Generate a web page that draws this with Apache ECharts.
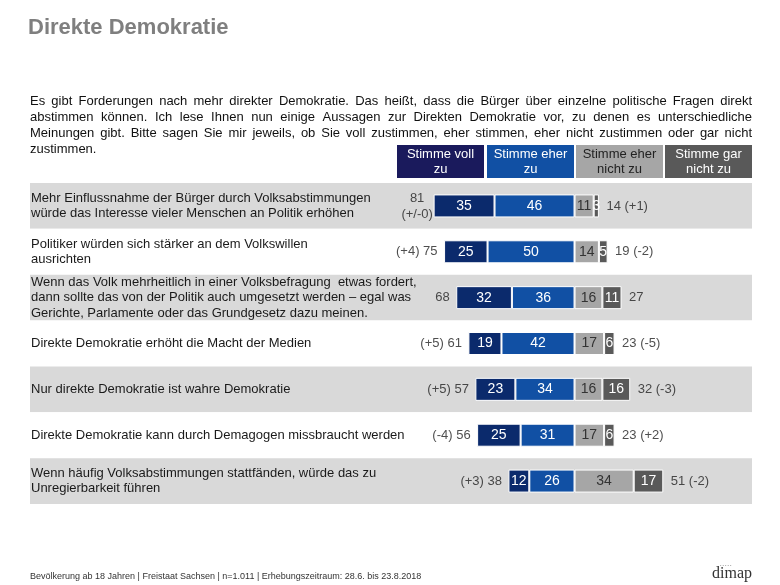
<!DOCTYPE html>
<html>
<head>
<meta charset="utf-8">
<script src="https://cdn.jsdelivr.net/npm/echarts@6/dist/echarts.min.js"></script>
<style>
html,body{margin:0;padding:0;background:#fff;}
#chart{width:780px;height:585px;}
</style>
</head>
<body>
<div id="chart"></div>
<script>
var categories = [
  'Mehr Einflussnahme der Bürger durch Volksabstimmungen\nwürde das Interesse vieler Menschen an Politik erhöhen',
  'Politiker würden sich stärker an dem Volkswillen\nausrichten',
  'Wenn das Volk mehrheitlich in einer Volksbefragung  etwas fordert,\ndann sollte das von der Politik auch umgesetzt werden – egal was\nGerichte, Parlamente oder das Grundgesetz dazu meinen.',
  'Direkte Demokratie erhöht die Macht der Medien',
  'Nur direkte Demokratie ist wahre Demokratie',
  'Direkte Demokratie kann durch Demagogen missbraucht werden',
  'Wenn häufig Volksabstimmungen stattfänden, würde das zu\nUnregierbarkeit führen'
];
var seriesNames = ['Stimme voll\nzu', 'Stimme eher\nzu', 'Stimme eher\nnicht zu', 'Stimme gar\nnicht zu'];
var vollZu      = [35, 25, 32, 19, 23, 25, 12];
var eherZu      = [46, 50, 36, 42, 34, 31, 26];
var eherNichtZu = [11, 14, 16, 17, 16, 17, 34];
var garNichtZu  = [3, 5, 11, 6, 16, 6, 17];
var agreeTotal     = [81, 75, 68, 61, 57, 56, 38];
var agreeChange    = ['+/-0', '+4', '', '+5', '+5', '-4', '+3'];
var disagreeTotal  = [14, 19, 27, 23, 32, 23, 51];
var disagreeChange = ['+1', '-2', '', '-5', '-3', '+2', '-2'];

var paragraphLines = [
  'Es gibt Forderungen nach mehr direkter Demokratie. Das heißt, dass die Bürger über einzelne politische Fragen direkt',
  'abstimmen können. Ich lese Ihnen nun einige Aussagen zur Direkten Demokratie vor, zu denen es unterschiedliche',
  'Meinungen gibt. Bitte sagen Sie mir jeweils, ob Sie voll zustimmen, eher stimmen, eher nicht zustimmen oder gar nicht',
  'zustimmen.'
];

var colors = ['#0b2a6c', '#1150a4', '#a6a6a6', '#595959'];
var headerColors = ['#1a1a5c', '#1150a4', '#a6a6a6', '#595959'];
var headerText = ['#ffffff', '#ffffff', '#222222', '#ffffff'];
var FONT = 'Liberation Sans, Arial, sans-serif';

var chart = echarts.init(document.getElementById('chart'), null, {renderer: 'canvas'});

function segLabel(color) {
  return {
    show: true, position: 'inside', color: color, fontSize: 14, fontFamily: FONT,
    formatter: function (p) { return Math.abs(p.value); }
  };
}

var headerGraphics = [];
var hx = [397, 487, 576, 665];
for (var i = 0; i < 4; i++) {
  headerGraphics.push({
    type: 'rect', left: hx[i], top: 145,
    shape: {width: 87, height: 33},
    style: {fill: headerColors[i]}, silent: true
  });
  headerGraphics.push({
    type: 'text', x: hx[i] + 43.5, y: 161.5,
    style: {text: seriesNames[i], fill: headerText[i], font: '13px ' + FONT,
      align: 'center', verticalAlign: 'middle', lineHeight: 15}, silent: true
  });
}

// justified paragraph: place words of each line with stretched spacing
var pFont = '13px ' + FONT;
var ctx = document.createElement('canvas').getContext('2d');
ctx.font = pFont;
var paraGraphics = [];
var pLeft = 30, pWidth = 722, pTop = 101, pLine = 16;
paragraphLines.forEach(function (line, li) {
  var y = pTop + li * pLine;
  var words = line.split(' ');
  if (li === paragraphLines.length - 1 || words.length < 2) {
    paraGraphics.push({type: 'text', x: pLeft, y: y,
      style: {text: line, fill: '#111', font: pFont, verticalAlign: 'middle'}, silent: true});
    return;
  }
  var widths = words.map(function (w) { return ctx.measureText(w).width; });
  var total = widths.reduce(function (a, b) { return a + b; }, 0);
  var gap = (pWidth - total) / (words.length - 1);
  var x = pLeft;
  words.forEach(function (w, wi) {
    paraGraphics.push({type: 'text', x: x, y: y,
      style: {text: w, fill: '#111', font: pFont, verticalAlign: 'middle'}, silent: true});
    x += widths[wi] + gap;
  });
});

var option = {
  animation: false,
  backgroundColor: '#ffffff',
  grid: {left: 30, right: 28, top: 183, height: 321, containLabel: false},
  xAxis: {type: 'value', min: -313, max: 102, show: false},
  yAxis: {
    type: 'category', data: categories, inverse: true,
    axisLine: {show: false}, axisTick: {show: false},
    axisLabel: {inside: true, margin: 1, fontSize: 13, color: '#1a1a1a',
      fontFamily: FONT, lineHeight: 15.5, align: 'left'},
    splitLine: {show: false},
    splitArea: {show: true, areaStyle: {color: ['#d9d9d9', '#ffffff']}},
    z: 1
  },
  graphic: [
    {type: 'text', left: 28, top: 17,
      style: {text: 'Direkte Demokratie', fill: '#7f7f7f', font: 'bold 22px ' + FONT}},
    {type: 'text', left: 30, top: 572,
      style: {text: 'Bevölkerung ab 18 Jahren | Freistaat Sachsen | n=1.011 | Erhebungszeitraum: 28.6. bis 23.8.2018',
        fill: '#333', font: '9px ' + FONT}},
    {type: 'text', left: 712, top: 566,
      style: {text: 'dimap', fill: '#333', font: '16px Liberation Serif, serif'}},
    {type: 'text', left: 720, top: 564,
      style: {text: '• • • • •', fill: '#999', font: '4px ' + FONT}}
  ].concat(paraGraphics).concat(headerGraphics),
  series: [
    {name: 'eher', type: 'bar', stack: 's', barWidth: 23,
      data: eherZu.map(function (v) { return -v; }),
      itemStyle: {color: colors[1], borderColor: '#fff', borderWidth: 1},
      label: segLabel('#fff')},
    {name: 'voll', type: 'bar', stack: 's', barWidth: 23,
      data: vollZu.map(function (v) { return -v; }),
      itemStyle: {color: colors[0], borderColor: '#fff', borderWidth: 1},
      label: segLabel('#fff')},
    {name: 'ehernicht', type: 'bar', stack: 's', barWidth: 23,
      data: eherNichtZu,
      itemStyle: {color: colors[2], borderColor: '#fff', borderWidth: 1},
      label: segLabel('#333')},
    {name: 'garnicht', type: 'bar', stack: 's', barWidth: 23,
      data: garNichtZu,
      itemStyle: {color: colors[3], borderColor: '#fff', borderWidth: 1},
      label: segLabel('#fff')},
    {name: 'agreeTotals', type: 'scatter', symbolSize: 1,
      itemStyle: {color: 'rgba(0,0,0,0)'},
      data: agreeTotal.map(function (v, i) {
        var d = {value: [-v, i]};
        if (i === 0) d.label = {align: 'center', distance: 16};
        return d;
      }),
      label: {show: true, position: 'left', distance: 6, fontSize: 13, color: '#222',
        fontFamily: FONT, lineHeight: 16,
        formatter: function (p) {
          var i = p.dataIndex, c = agreeChange[i];
          if (!c) return String(agreeTotal[i]);
          if (i === 0) return agreeTotal[i] + '\n(' + c + ')';
          return '(' + c + ') ' + agreeTotal[i];
        }},
      z: 5},
    {name: 'disagreeTotals', type: 'scatter', symbolSize: 1,
      itemStyle: {color: 'rgba(0,0,0,0)'},
      data: disagreeTotal.map(function (v, i) { return [v, i]; }),
      label: {show: true, position: 'right', distance: 7, fontSize: 13, color: '#222',
        fontFamily: FONT,
        formatter: function (p) {
          var i = p.dataIndex, c = disagreeChange[i];
          return c ? disagreeTotal[i] + ' (' + c + ')' : String(disagreeTotal[i]);
        }},
      z: 5}
  ]
};
chart.setOption(option);
</script>
</body>
</html>
